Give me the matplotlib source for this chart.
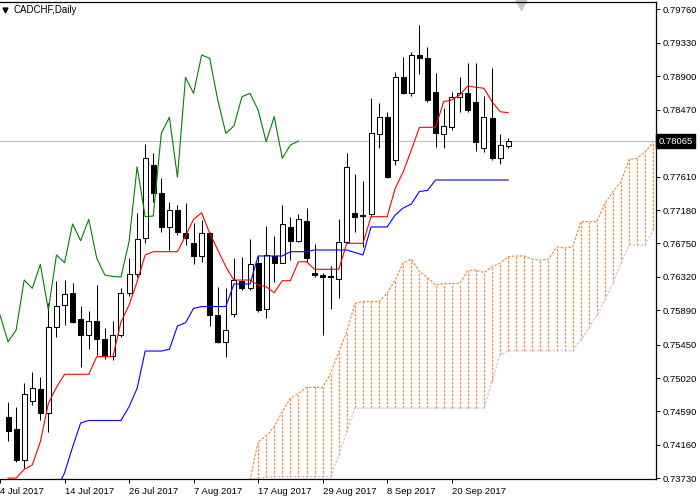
import matplotlib
matplotlib.use("Agg")
from matplotlib import pyplot as plt
from matplotlib import transforms
import numpy as np

plt.rcParams['font.family'] = ['Liberation Sans', 'DejaVu Sans']

title = "CADCHF,Daily"
last_price = 0.78065

# daily bars 1..63 (bar 0 = 4 Jul 2017 sits just off the left edge)
opens = [0.74523, 0.74364, 0.73966, 0.74728, 0.74875, 0.74566, 0.75680, 0.75959, 0.76109, 0.75775,
         0.75573, 0.75753, 0.75518, 0.75303, 0.75573, 0.76109, 0.76357, 0.76816, 0.77759, 0.77402,
         0.76965, 0.77180, 0.76888, 0.76760, 0.76589, 0.76881, 0.75830, 0.75487, 0.75843, 0.76271,
         0.76173, 0.76503, 0.75903, 0.76589, 0.76503, 0.76958, 0.76785, 0.77039, 0.76364, 0.76344,
         0.76332, 0.76289, 0.76772, 0.77138, 0.77116, 0.77129, 0.78157, 0.78380, 0.77823, 0.78886,
         0.78680, 0.79173, 0.79130, 0.78701, 0.78157, 0.78251, 0.78629, 0.78680, 0.78572, 0.77977,
         0.78367, 0.77845, 0.78007]
highs = [0.74715, 0.74651, 0.74960, 0.75093, 0.75037, 0.75984, 0.76271, 0.76280, 0.76248, 0.75946,
         0.75885, 0.76216, 0.75659, 0.75757, 0.76177, 0.76559, 0.77138, 0.78029, 0.77917, 0.77595,
         0.77287, 0.77244, 0.77274, 0.77009, 0.77052, 0.76897, 0.76194, 0.76173, 0.76559, 0.76580,
         0.76803, 0.76589, 0.76974, 0.76846, 0.77244, 0.77086, 0.77129, 0.77202, 0.76743, 0.76364,
         0.76460, 0.77060, 0.77909, 0.77643, 0.77557, 0.78616, 0.78552, 0.78444, 0.78958, 0.79143,
         0.79211, 0.79559, 0.79272, 0.78938, 0.78488, 0.78701, 0.78894, 0.79066, 0.79074, 0.78646,
         0.79002, 0.78157, 0.78102]
lows = [0.74214, 0.73936, 0.73863, 0.74673, 0.74480, 0.74330, 0.75551, 0.75702, 0.75727, 0.75158,
        0.75389, 0.75316, 0.75261, 0.75252, 0.75551, 0.76078, 0.76323, 0.76760, 0.77287, 0.76901,
        0.76666, 0.76859, 0.76730, 0.76486, 0.76515, 0.75689, 0.75466, 0.75294, 0.75808, 0.76152,
        0.76152, 0.75869, 0.75788, 0.76258, 0.76495, 0.76537, 0.76772, 0.76515, 0.76323, 0.75573,
        0.75903, 0.76045, 0.76752, 0.76901, 0.76708, 0.77094, 0.77973, 0.77588, 0.77759, 0.78665,
        0.78646, 0.78929, 0.78572, 0.77994, 0.77973, 0.78209, 0.78444, 0.78444, 0.77943, 0.77926,
        0.77823, 0.77772, 0.77973]
closes = [0.74343, 0.73966, 0.74814, 0.74888, 0.74574, 0.75680, 0.75950, 0.76100, 0.75744, 0.75573,
          0.75753, 0.75518, 0.75303, 0.75573, 0.76109, 0.76357, 0.76803, 0.77845, 0.77395, 0.76965,
          0.77180, 0.76901, 0.76816, 0.76589, 0.76881, 0.75830, 0.75487, 0.75637, 0.76280, 0.76173,
          0.76482, 0.75894, 0.76602, 0.76503, 0.77000, 0.76785, 0.77060, 0.76559, 0.76344, 0.76325,
          0.76319, 0.76772, 0.77737, 0.77094, 0.77103, 0.78166, 0.78372, 0.77601, 0.78886, 0.78680,
          0.79173, 0.79130, 0.78594, 0.78166, 0.78260, 0.78637, 0.78680, 0.78466, 0.78058, 0.78380,
          0.77845, 0.78016, 0.78065]

# Tenkan-sen, bars 1..63
tenkan = [0.73734, 0.73734, 0.73846, 0.73902, 0.74201, 0.74695, 0.74900, 0.75068, 0.75068, 0.75068,
          0.75068, 0.75295, 0.75295, 0.75295, 0.75740, 0.75959, 0.76258, 0.76602, 0.76644, 0.76644,
          0.76644, 0.76644, 0.76846, 0.77060, 0.77145, 0.76881, 0.76666, 0.76451, 0.76280, 0.76280,
          0.76280, 0.76216, 0.76194, 0.76117, 0.76271, 0.76271, 0.76515, 0.76515, 0.76418, 0.76418,
          0.76418, 0.76418, 0.76752, 0.76752, 0.76752, 0.77094, 0.77094, 0.77094, 0.77459, 0.77672,
          0.77951, 0.78243, 0.78243, 0.78243, 0.78572, 0.78594, 0.78659, 0.78774, 0.78758, 0.78745,
          0.78572, 0.78444, 0.78431]

# Kijun-sen, bars 7..63
kijun = [0.73580, 0.73799, 0.74133, 0.74442, 0.74474, 0.74474, 0.74474, 0.74474, 0.74474, 0.74651,
         0.74888, 0.75367, 0.75367, 0.75367, 0.75389, 0.75689, 0.75731, 0.75916, 0.75939, 0.75939,
         0.75939, 0.75939, 0.76229, 0.76229, 0.76229, 0.76589, 0.76589, 0.76589, 0.76589, 0.76644,
         0.76644, 0.76644, 0.76666, 0.76666, 0.76666, 0.76666, 0.76666, 0.76634, 0.76602, 0.76962,
         0.76962, 0.76962, 0.77116, 0.77206, 0.77257, 0.77418, 0.77431, 0.77566, 0.77566, 0.77566,
         0.77566, 0.77566, 0.77566, 0.77566, 0.77566, 0.77566, 0.77566]

# Senkou span A / B, bars 31..81 (already shifted forward)
span_a = [0.73709, 0.74201, 0.74274, 0.74394, 0.74587, 0.74759, 0.74823, 0.74900, 0.74900, 0.74900,
          0.75081, 0.75358, 0.75615, 0.75980, 0.76004, 0.76004, 0.76004, 0.76109, 0.76280, 0.76505,
          0.76546, 0.76389, 0.76312, 0.76216, 0.76235, 0.76235, 0.76235, 0.76400, 0.76409, 0.76374,
          0.76451, 0.76495, 0.76580, 0.76589, 0.76589, 0.76546, 0.76537, 0.76546, 0.76704, 0.76692,
          0.76704, 0.77030, 0.77030, 0.77030, 0.77266, 0.77415, 0.77544, 0.77832, 0.77845, 0.77930,
          0.78058]
span_b = [0.73709, 0.73728, 0.73747, 0.73751, 0.73751, 0.73751, 0.73751, 0.73751, 0.73751, 0.73751,
          0.73751, 0.74030, 0.74330, 0.74634, 0.74634, 0.74634, 0.74634, 0.74634, 0.74634, 0.74634,
          0.74634, 0.74634, 0.74634, 0.74634, 0.74634, 0.74634, 0.74634, 0.74634, 0.74634, 0.74634,
          0.74973, 0.75316, 0.75371, 0.75371, 0.75371, 0.75371, 0.75371, 0.75371, 0.75371, 0.75371,
          0.75371, 0.75509, 0.75659, 0.75830, 0.76023, 0.76238, 0.76503, 0.76730, 0.76730, 0.76730,
          0.76923]

date_labels = ["4 Jul 2017", "14 Jul 2017", "26 Jul 2017", "7 Aug 2017",
               "17 Aug 2017", "29 Aug 2017", "8 Sep 2017", "20 Sep 2017"]
date_bars = [0, 8, 16, 24, 32, 40, 48, 56]
price_ticks = [0.79760, 0.79330, 0.78900, 0.78470, 0.77610, 0.77180, 0.76750, 0.76320,
               0.75890, 0.75450, 0.75020, 0.74590, 0.74160, 0.73730]

fig = plt.figure(figsize=(7.0, 5.01), dpi=100)
ax = fig.add_axes([0.0, 22 / 501, 656 / 700, 477 / 501])

bars = np.arange(1, len(closes) + 1)
o = np.array(opens)
c = np.array(closes)
bull = c >= o

# cloud: one dashed vertical per bar, coloured by the upper span
cloud_x = np.arange(31, 31 + len(span_a))
sa = np.array(span_a)
sb = np.array(span_b)
dash = (0, (2.0, 1.2))
up_col = '#F29040'
down_col = '#D8BFD8'
hatch_cols = [up_col if a >= b else down_col for a, b in zip(sa, sb)]
ax.vlines(cloud_x, np.minimum(sa, sb), np.maximum(sa, sb), colors=hatch_cols,
          linestyles=dash, lw=0.9, zorder=1)
ax.plot(cloud_x, sa, color=up_col, lw=0.9, ls=dash, zorder=1)
ax.plot(cloud_x, sb, color=down_col, lw=0.9, ls=dash, zorder=1)

# current price line
ax.axhline(last_price, color='#c0c0c0', lw=0.8, zorder=1)

# candles
ax.vlines(bars, lows, highs, colors='black', lw=0.75, zorder=3)
body_lo = np.minimum(o, c)
body_h = np.maximum(np.abs(c - o), 0.00002)
ax.bar(bars, body_h, bottom=body_lo, width=0.62,
       color=np.where(bull, 'white', 'black'), edgecolor='black', lw=0.75, zorder=4)

# Ichimoku lines
ax.plot(bars, tenkan, color='red', lw=0.8, zorder=5)
ax.plot(np.arange(7, 7 + len(kijun)), kijun, color='blue', lw=0.8, zorder=5)
chikou = closes[25:]
ax.plot(np.arange(len(chikou)), chikou, color='#008000', lw=0.8, zorder=5)

ax.set_xlim(0.3457, 81.33)
ax.set_ylim(0.73722, 0.79854)

ax.yaxis.tick_right()
ax.set_yticks(price_ticks)
ax.set_yticklabels(["%.5f" % p for p in price_ticks])
ax.set_xticks(date_bars)
ax.set_xticklabels(date_labels, ha='left')
ax.tick_params(axis='both', direction='out', length=3, width=0.7, pad=2,
               labelsize=6.8, colors='black')
ax.tick_params(axis='x', pad=3)

for side in ['top', 'bottom', 'right']:
    ax.spines[side].set_linewidth(0.9)
ax.spines['left'].set_visible(False)

# price tag on the axis
tr = transforms.blended_transform_factory(ax.transAxes, ax.transData)
ax.text(1.004, last_price, "%.5f" % last_price, transform=tr, color='white', fontsize=6.8,
        ha='left', va='center',
        bbox=dict(boxstyle='square,pad=0.25', facecolor='black', edgecolor='black'))

# header and chart-shift marker
ax.plot([5 / 656], [1 - 8 / 477], marker='v', color='black', ms=3.5,
        transform=ax.transAxes, clip_on=False)
ax.text(13 / 656, 1 - 8 / 477, title, transform=ax.transAxes, fontsize=7,
        ha='left', va='center', color='black')
ax.plot([521 / 656], [1 - 2 / 477], marker='v', color='#c8c8c8', ms=8,
        transform=ax.transAxes, clip_on=False)

fig.savefig('out.png', dpi=100)
